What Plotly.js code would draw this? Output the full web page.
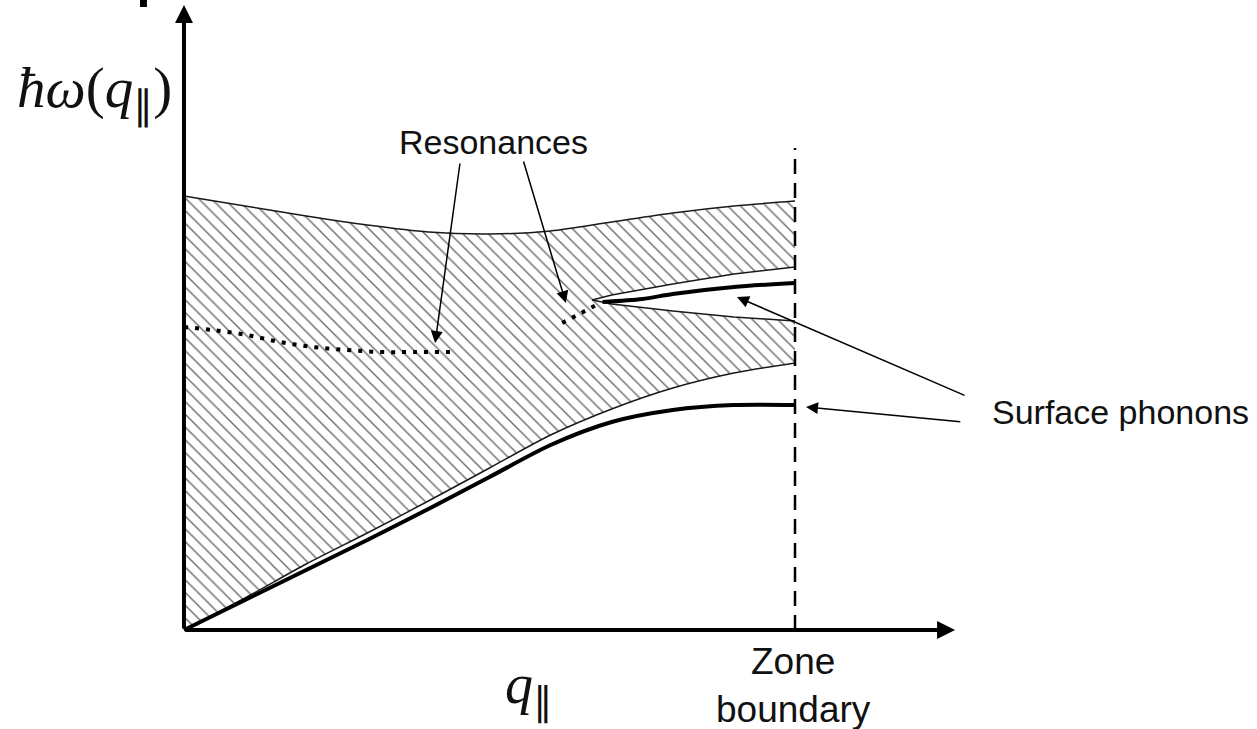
<!DOCTYPE html>
<html>
<head>
<meta charset="utf-8">
<script src="https://cdn.plot.ly/plotly-3.0.1.min.js"></script>
<style>html,body{margin:0;padding:0;background:#fff;}#chart{width:1257px;height:729px;}</style>
</head>
<body>
<div id="chart"></div>
<script>
// q in units of the zone-boundary wavevector, energy in arbitrary units
const qGrid = [0, 0.1, 0.2, 0.3, 0.4, 0.5, 0.6, 0.7, 0.8, 0.9, 1.0];
// upper edge of bulk band
const bandTopE = [4.34, 4.24, 4.14, 4.05, 3.98, 3.96, 3.99, 4.08, 4.17, 4.24, 4.29];
// lower edge of bulk band (thin line)
const bandBottomE = [0, 0.32, 0.66, 0.97, 1.29, 1.62, 1.95, 2.21, 2.42, 2.57, 2.67];
// lower surface phonon (thick line, Rayleigh-like)
const surf1E = [0, 0.30, 0.60, 0.90, 1.21, 1.53, 1.85, 2.08, 2.20, 2.25, 2.25];
// gap opening inside the band
const gapQ = [0.668, 0.7, 0.8, 0.9, 1.0];
const gapUpperE = [3.30, 3.35, 3.46, 3.56, 3.63];
const gapLowerE = [3.30, 3.26, 3.19, 3.13, 3.09];
// upper surface phonon in the gap
const surf2Q = [0.685, 0.75, 0.8, 0.9, 1.0];
const surf2E = [3.28, 3.31, 3.36, 3.43, 3.47];
// resonances (dotted)
const res1Q = [0, 0.047, 0.103, 0.157, 0.211, 0.267, 0.321, 0.375, 0.444];
const res1E = [3.03, 3.00, 2.95, 2.88, 2.83, 2.80, 2.78, 2.78, 2.78];
const res2Q = [0.619, 0.640, 0.661, 0.681];
const res2E = [3.07, 3.14, 3.21, 3.27];
// zone boundary
const zoneQ = [1, 1];
const zoneE = [0, 4.82];

// band polygon
const polyQ = [0].concat(qGrid, [1], gapQ.slice().reverse(), gapQ, [1], qGrid.slice().reverse());
const polyE = [0].concat(bandTopE, [gapUpperE[4]], gapUpperE.slice().reverse(), gapLowerE, [bandBottomE[10]], bandBottomE.slice().reverse());

const thin = {color: '#1a1a1a', width: 1.5, shape: 'spline', smoothing: 0.8};
const traces = [
  {x: polyQ, y: polyE, mode: 'lines', fill: 'toself', fillcolor: 'rgba(255,255,255,0)',
   fillpattern: {shape: '\\', size: 9, solidity: 0.16, fgcolor: '#6e6e6e', bgcolor: 'white'},
   line: {width: 0}, hoverinfo: 'skip'},
  {x: qGrid, y: bandTopE, mode: 'lines', line: thin},
  {x: qGrid, y: bandBottomE, mode: 'lines', line: thin},
  {x: gapQ.slice().reverse().concat(gapQ.slice(1)), y: gapUpperE.slice().reverse().concat(gapLowerE.slice(1)), mode: 'lines', line: {color: '#1a1a1a', width: 1.5}},
  {x: qGrid, y: surf1E, mode: 'lines', line: {color: '#000', width: 4, shape: 'spline', smoothing: 0.8}},
  {x: surf2Q, y: surf2E, mode: 'lines', line: {color: '#000', width: 4, shape: 'spline', smoothing: 0.8}},
  {x: res1Q, y: res1E, mode: 'lines', line: {color: '#000', width: 4, dash: '4px,7px', shape: 'spline'}},
  {x: res2Q, y: res2E, mode: 'lines', line: {color: '#000', width: 4, dash: '4px,7px'}},
  {x: zoneQ, y: zoneE, mode: 'lines', line: {color: '#000', width: 2.5, dash: '15px,9px'}}
];

function arrow(tx, ty, fx, fy, w, s) {
  return {x: tx, y: ty, ax: fx, ay: fy, xref: 'x', yref: 'y', axref: 'x', ayref: 'y',
          text: '', showarrow: true, arrowhead: 2, arrowwidth: w, arrowsize: s, arrowcolor: '#000', standoff: 0, startstandoff: 0};
}
const sans = {family: 'Liberation Sans, Arial, sans-serif', size: 34, color: '#111'};
const serif = {family: 'Liberation Serif, Times New Roman, serif', size: 57, color: '#111'};
const annotations = [
  arrow(1.262, 0, 0, 0, 4, 0.9),
  arrow(0, 6.25, 0, 0, 4, 0.9),
  arrow(0.411, 2.87, 0.452, 4.68, 1.5, 1.6),
  arrow(0.625, 3.27, 0.555, 4.70, 1.5, 1.6),
  arrow(0.905, 3.33, 1.280, 2.34, 1.5, 1.6),
  arrow(1.018, 2.23, 1.273, 2.08, 1.5, 1.6),
  {x: 0.506, y: 4.88, xref: 'x', yref: 'y', text: 'Resonances', showarrow: false, font: sans},
  {x: 1.533, y: 2.18, xref: 'x', yref: 'y', text: 'Surface phonons', showarrow: false, font: sans},
  {x: 0.998, y: -0.55, xref: 'x', yref: 'y', text: 'Zone<br>boundary', showarrow: false, font: {family: sans.family, size: 37, color: '#111'}},
  {x: -0.146, y: 5.38, xref: 'x', yref: 'y', text: '<i>ħω</i>(<i>q</i><sub>∥</sub>)', showarrow: false, font: serif},
  {x: 0.565, y: -0.58, xref: 'x', yref: 'y', text: '<i>q</i><sub>∥</sub>', showarrow: false, font: {family: serif.family, size: 56, color: '#111'}}
];

const layout = {
  width: 1257, height: 729, autosize: false,
  margin: {l: 0, r: 0, t: 0, b: 0, pad: 0},
  paper_bgcolor: 'white', plot_bgcolor: 'white', showlegend: false,
  xaxis: {range: [-0.3011, 1.7561], visible: false, fixedrange: true},
  yaxis: {range: [-0.99, 6.30], visible: false, fixedrange: true},
  annotations: annotations,
  shapes: [{type: 'rect', xref: 'x', yref: 'y', x0: -0.072, x1: -0.0606, y0: 6.23, y1: 6.31, fillcolor: '#000', line: {width: 0}}]
};
Plotly.newPlot('chart', traces, layout, {staticPlot: true, displayModeBar: false});
</script>
</body>
</html>
